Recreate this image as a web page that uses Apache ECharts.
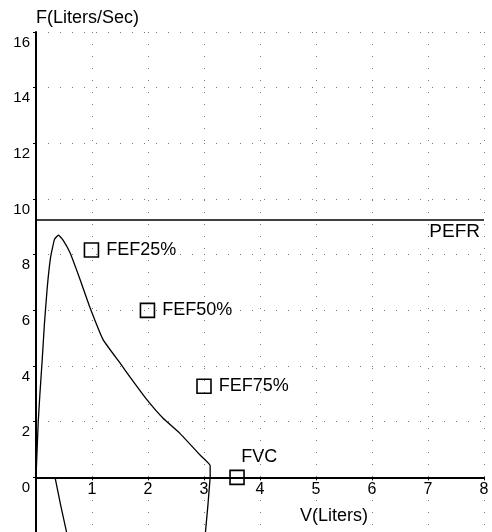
<!DOCTYPE html>
<html>
<head>
<meta charset="utf-8">
<script src="https://cdn.jsdelivr.net/npm/echarts@6/dist/echarts.min.js"></script>
<style>
html,body{margin:0;padding:0;background:#fff;}
#chart{width:492px;height:532px;}
</style>
</head>
<body>
<div id="chart"></div>
<script>
// Expiratory flow-volume curve (V in liters, F in liters/sec)
const expVolume = [0, 0.02, 0.04, 0.07, 0.11, 0.15, 0.2, 0.26, 0.33, 0.4, 0.48, 0.61, 0.79, 0.96, 1.2, 1.5, 1.68, 1.98, 2.27, 2.57, 2.93, 3.11, 3.11];
const expFlow   = [0, 1.0, 2.0, 3.0, 4.2, 5.5, 6.8, 7.9, 8.55, 8.7, 8.53, 8.06, 7.09, 6.12, 4.94, 4.11, 3.6, 2.79, 2.12, 1.58, 0.8, 0.42, 0];
// Inspiratory branches (visible part)
const inspLeftVolume  = [0.34, 0.44, 0.56];
const inspLeftFlow    = [0, -1.0, -2.1];
const inspRightVolume = [3.11, 3.07, 3.02];
const inspRightFlow   = [0, -1.0, -2.1];
// Marked points
const markerNames  = ['FEF25%', 'FEF50%', 'FEF75%', 'FVC'];
const markerVolume = [0.99, 1.99, 3.0, 3.59];
const markerFlow   = [8.17, 6.0, 3.27, 0];
// Peak flow line
const pefrValue = 9.25;
// Axis ticks
const xTicks = [0, 1, 2, 3, 4, 5, 6, 7, 8];
const yTicks = [-2, 0, 2, 4, 6, 8, 10, 12, 14, 16];

const font = 'Liberation Sans, Arial, sans-serif';
const zip = (a, b) => a.map((v, i) => [v, b[i]]);

const W = 492, H = 532, G = {left: 36, right: 8, top: 32, bottom: -1};
const yMin = yTicks[0], yMax = yTicks[yTicks.length - 1];
// lift the x axis (labels, ticks, name) from the grid bottom up to F = 0
const xAxisLift = (H - G.top - G.bottom) * (0 - yMin) / (yMax - yMin);

const chart = echarts.init(document.getElementById('chart'));
const gridLine = {show: true, lineStyle: {color: '#777', width: 1, type: [1, 11]}};

chart.setOption({
  animation: false,
  backgroundColor: '#fff',
  grid: Object.assign({containLabel: false, outerBoundsMode: 'none'}, G),
  xAxis: {
    type: 'value', min: xTicks[0], max: xTicks[xTicks.length - 1], interval: 1,
    offset: -xAxisLift,
    name: 'V(Liters)', nameLocation: 'middle', nameGap: 30,
    nameTextStyle: {color: '#000', fontSize: 18, fontFamily: font, padding: [0, 0, 0, 148]},
    axisLine: {onZero: false, lineStyle: {color: '#000', width: 2}},
    axisTick: {show: true, length: 3, lineStyle: {color: '#000'}},
    axisLabel: {color: '#000', fontSize: 16, fontFamily: font, margin: 4, showMinLabel: false},
    splitLine: gridLine
  },
  yAxis: {
    type: 'value', min: yMin, max: yMax, interval: 2,
    name: 'F(Liters/Sec)', nameLocation: 'end', nameGap: 14,
    nameTextStyle: {color: '#000', fontSize: 18, fontFamily: font, align: 'left', verticalAlign: 'middle'},
    axisLine: {onZero: false, lineStyle: {color: '#000', width: 2}},
    axisTick: {show: true, length: 3, lineStyle: {color: '#000'}},
    axisLabel: {color: '#000', fontSize: 15, fontFamily: font, margin: 6, verticalAlign: 'top', padding: [3, 0, 0, 0], showMinLabel: false},
    splitLine: gridLine
  },
  series: [
    {
      type: 'line', data: zip(expVolume, expFlow), showSymbol: false, smooth: 0.12,
      lineStyle: {color: '#000', width: 1.3},
      markLine: {
        silent: true, symbol: 'none',
        lineStyle: {color: '#000', width: 1.6, type: 'solid'},
        label: {show: true, position: 'insideEndBottom', formatter: 'PEFR', color: '#000', fontSize: 19, fontFamily: font, distance: [4, 2]},
        data: [{yAxis: pefrValue}]
      }
    },
    {type: 'line', data: zip(inspLeftVolume, inspLeftFlow), showSymbol: false, lineStyle: {color: '#000', width: 1.3}},
    {type: 'line', data: zip(inspRightVolume, inspRightFlow), showSymbol: false, lineStyle: {color: '#000', width: 1.3}},
    {
      type: 'scatter', symbol: 'rect', symbolSize: 14,
      itemStyle: {color: 'rgba(0,0,0,0)', borderColor: '#000', borderWidth: 1.6, opacity: 1},
      label: {show: true, position: 'right', distance: 7, color: '#000', opacity: 1, textBorderWidth: 0, fontSize: 18, fontFamily: font, formatter: p => p.name},
      data: markerNames.map((n, i) => {
        const d = {name: n, value: [markerVolume[i], markerFlow[i]]};
        if (n === 'FVC') d.label = {position: [12, -22], align: 'left', verticalAlign: 'top'};
        return d;
      })
    }
  ]
});
</script>
</body>
</html>
